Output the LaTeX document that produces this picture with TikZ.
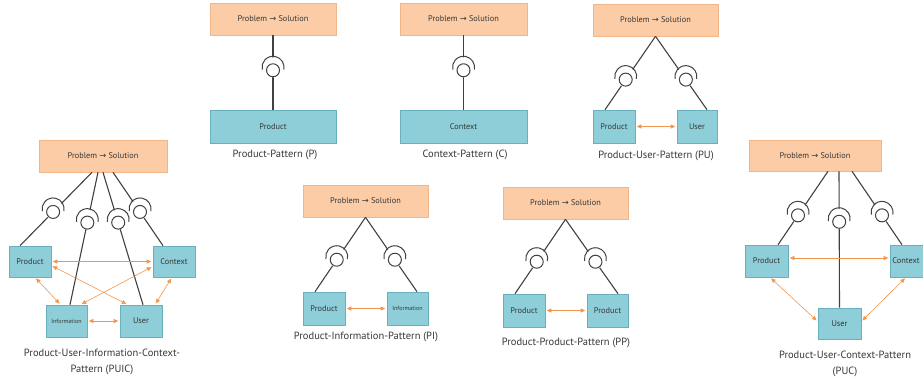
\documentclass[tikz,border=0pt]{standalone}
\usepackage{fontspec}
\setmainfont{PT Sans}
\setsansfont{PT Sans}
\newfontfamily\arrowfont{DejaVu Sans}
\usetikzlibrary{calc,arrows.meta}
\definecolor{probfill}{RGB}{251,204,166}
\definecolor{probline}{RGB}{240,182,138}
\definecolor{partfill}{RGB}{142,206,217}
\definecolor{partline}{RGB}{105,175,190}
\definecolor{matecol}{RGB}{240,150,80}
\definecolor{wirecol}{RGB}{65,65,65}
\definecolor{textcol}{RGB}{55,55,55}
\tikzset {>={Triangle[length=4.5pt,width=4pt]}}
\tikzset{
  probbox/.style={draw=probline,fill=probfill,line width=0.6pt,minimum width=125pt,minimum height=32pt,inner sep=0pt,font=\fontsize{8.3}{10}\selectfont,text=textcol},
  partbox/.style={draw=partline,fill=partfill,line width=0.6pt,minimum width=42pt,minimum height=33pt,inner sep=0pt,font=\fontsize{8.3}{10}\selectfont,text=textcol},
  infobox/.style={partbox,font=\fontsize{6}{7}\selectfont},
  wire/.style={draw=wirecol,line width=1.1pt},
  mate/.style={<->,draw=matecol,line width=0.6pt,shorten <=1.5pt,shorten >=1.5pt},
  caption/.style={font=\fontsize{10.5}{16}\selectfont,text=textcol,align=center},
  sock/.pic={
    \fill[white] (0,3pt) circle (10pt);
    \draw[wirecol,line width=1pt] (0,3pt) ++(-12:11pt) arc (-12:192:11pt);
    \draw[wirecol,line width=1pt,fill=white] (0,0) circle (6.5pt);
  }
}
\newcommand\probtext{Problem {\arrowfont →} Solution}
% wire from #1 to #2 with ball and socket at pos #3
\newcommand\plug[3]{%
  \draw[wire] #1 -- #2;
  \path #1 -- pic[pos=#3]{sock} #2;}

\begin{document}
\begin{tikzpicture}[x=1pt,y=-1pt]
\useasboundingbox (0,0) rectangle (923,376);
% Product-Pattern
\node[probbox,minimum width=126pt] (a1) at (273,19) {\probtext};
\node[partbox,minimum width=126pt] (p1) at (273,126.5) {Product};
\plug{(a1.south)}{(p1.north)}{.47}
\node[caption] (l1) at (275,155) {Product-Pattern (P)};
% Context-Pattern
\node[probbox,minimum width=127pt] (a2) at (463.5,19) {\probtext};
\node[partbox,minimum width=127pt] (c2) at (463.5,126.5) {Context};
\plug{(a2.south)}{(c2.north)}{.47}
\node[caption] (l2) at (465,155) {Context-Pattern (C)};
% Product-User-Pattern
\node[probbox] (a3) at (655.5,20) {\probtext};
\node[partbox] (p3) at (614,126.5) {Product};
\node[partbox,minimum width=40pt] (u3) at (697,126.5) {User};
\plug{(a3.south)}{([xshift=-9pt]p3.north)}{.59}
\plug{(a3.south)}{([xshift=10pt]u3.north)}{.59}
\draw[mate] (p3.east) -- (u3.west);
\node[caption] (l3) at (656,156) {Product-User-Pattern (PU)};
% Product-User-Information-Context-Pattern
\node[probbox,minimum width=128pt] (a4) at (103,156) {\probtext};
\node[partbox,minimum height=31pt] (p4) at (30,261.5) {Product};
\node[partbox,minimum height=31pt] (c4) at (174,261.5) {Context};
\node[infobox,minimum width=41pt,minimum height=32pt] (i4) at (66.5,321) {Information};
\node[partbox,minimum height=32pt] (u4) at (141,321) {User};
\plug{([xshift=-11pt]a4.south)}{([xshift=-10pt]p4.north)}{.54}
\plug{([xshift=-5pt]a4.south)}{([xshift=3.5pt]i4.north)}{.38}
\plug{(a4.south)}{([xshift=2pt]u4.north)}{.38}
\plug{([xshift=10pt]a4.south)}{([xshift=-11pt]c4.north)}{.54}
\draw[mate] (p4.east) -- (c4.west);
\draw[mate] ([yshift=-4pt]p4.east) -- ([xshift=8pt]u4.north west);
\draw[mate] ([yshift=-5pt]c4.west) -- ([xshift=-7pt]i4.north east);
\draw[mate] ([xshift=5pt]p4.south) -- ([xshift=-6pt]i4.north);
\draw[mate] ([xshift=-2pt]c4.south) -- ([xshift=14pt]u4.north);
\draw[mate] (i4.east) -- (u4.west);
\node[caption] (l4) at (102,361.5) {Product-User-Information-Context-\\Pattern (PUIC)};
% Product-Information-Pattern
\node[probbox] (a5) at (365.5,201) {\probtext};
\node[partbox] (p5) at (324,308.5) {Product};
\node[infobox,minimum width=41pt] (i5) at (407.5,308.5) {Information};
\plug{(a5.south)}{([xshift=-9pt]p5.north)}{.57}
\plug{(a5.south)}{([xshift=9.5pt]i5.north)}{.57}
\draw[mate] (p5.east) -- (i5.west);
\node[caption] (l5) at (366,337) {Product-Information-Pattern (PI)};
% Product-User-Context-Pattern
\node[probbox,minimum width=132pt,minimum height=31pt] (a6) at (815,155.5) {\probtext};
\node[partbox,minimum width=43pt,minimum height=32pt] (p6) at (766.5,261) {Product};
\node[partbox,minimum width=45pt,minimum height=32pt] (c6) at (912.5,261) {\hspace*{-13pt}Context};
\node[partbox,minimum width=43pt,minimum height=31pt] (u6) at (839.5,323.5) {User};
\plug{([xshift=13pt]a6.south)}{([xshift=11.5pt]p6.north)}{.6}
\plug{([xshift=24pt]a6.south)}{(u6.north)}{.37}
\plug{([xshift=37pt]a6.south)}{([xshift=-10.5pt]c6.north)}{.6}
\draw[mate] ([yshift=3pt]p6.east) -- ([yshift=3pt]c6.west);
\draw[mate] ([xshift=3.5pt]p6.south) -- ([yshift=2pt]u6.west);
\draw[mate] ([xshift=-6.5pt]c6.south) -- ([yshift=2pt]u6.east);
\node[caption] (l6) at (845,363.5) {Product-User-Context-Pattern\\(PUC)};
% Product-Product-Pattern
\node[probbox] (a7) at (565.5,203) {\probtext};
\node[partbox] (q7) at (524,310.5) {Product};
\node[partbox,minimum width=41pt] (r7) at (607.5,310.5) {Product};
\plug{(a7.south)}{([xshift=-9pt]q7.north)}{.57}
\plug{(a7.south)}{([xshift=10.5pt]r7.north)}{.57}
\draw[mate] (q7.east) -- (r7.west);
\node[caption] (l7) at (566,343) {Product-Product-Pattern (PP)};
\end{tikzpicture}
\end{document}
